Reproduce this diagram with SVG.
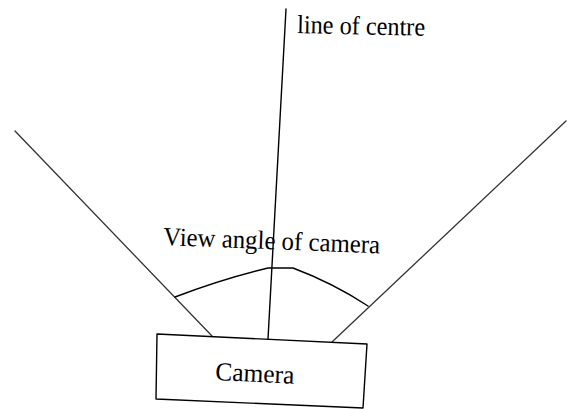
<svg xmlns="http://www.w3.org/2000/svg" width="571" height="409" viewBox="0 0 571 409">
<style>
.ln{fill:none;stroke:#000;stroke-width:1.4;stroke-linecap:round;stroke-linejoin:round}
.lg{fill:none;stroke:#333;stroke-width:1.3;stroke-linecap:round}
.t{font-family:"Liberation Serif","Times New Roman",serif;font-size:26px;fill:#000}
</style>
<rect width="571" height="409" fill="#fff"/>
<g id="connectors">
<line class="lg" x1="15" y1="131" x2="212" y2="336"/>
<line class="lg" x1="566" y1="121" x2="332" y2="342"/>
<line class="ln" x1="286" y1="9" x2="268" y2="339"/>
<path class="ln" d="M175,297 Q222,279 268,268 L293,268 Q333,283 368,306"/>
</g>
<g id="camera">
<polygon class="ln" points="157,334 367,344 363,408 156,399"/>
<text class="t" x="215" y="380" textLength="79" lengthAdjust="spacingAndGlyphs" transform="rotate(2.7 215 380)">Camera</text>
</g>
<g id="label-centre">
<text class="t" x="297" y="33" textLength="128" lengthAdjust="spacingAndGlyphs" transform="rotate(1.2 297 33)">line of centre</text>
</g>
<g id="label-view">
<text class="t" x="163" y="245" textLength="217" lengthAdjust="spacingAndGlyphs" transform="rotate(2.2 163 245)">View angle of camera</text>
</g>
</svg>
